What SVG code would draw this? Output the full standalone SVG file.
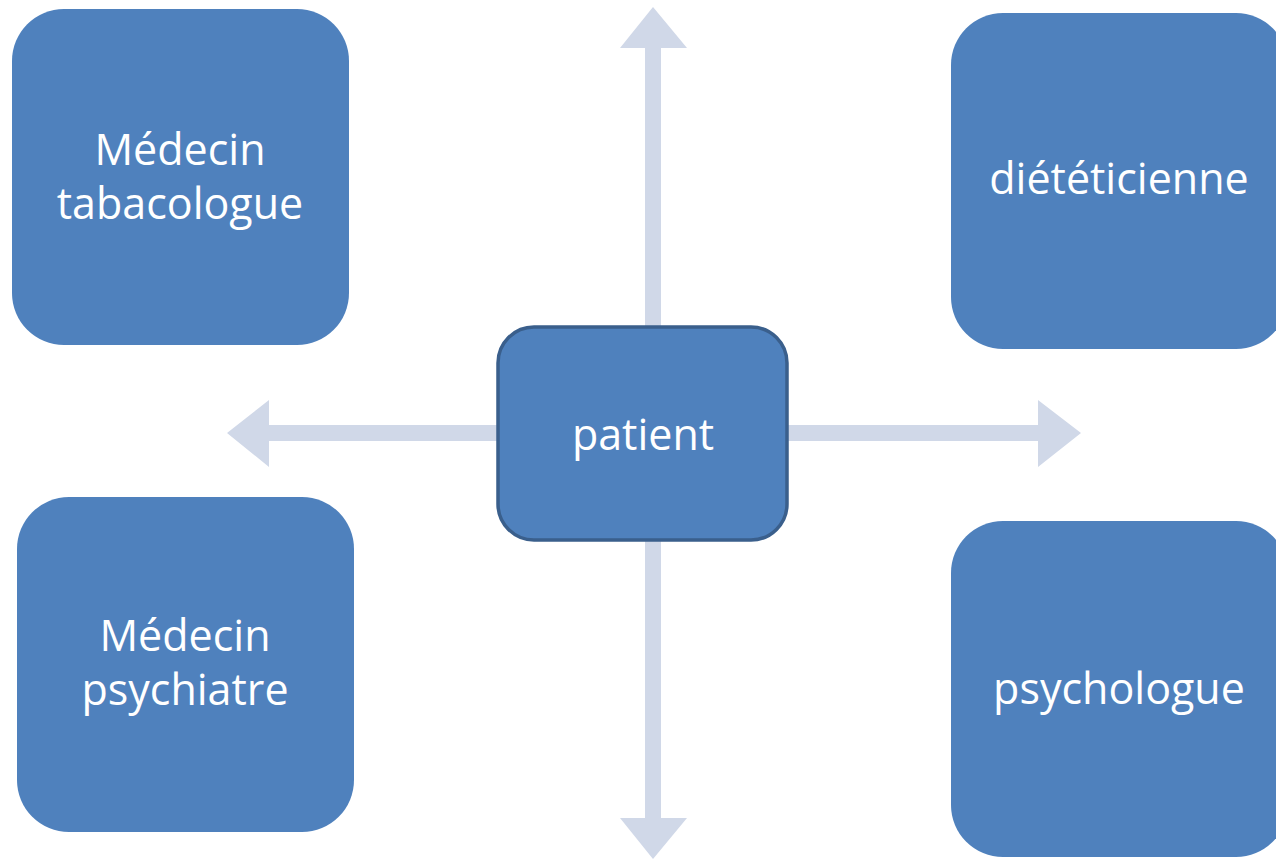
<svg xmlns="http://www.w3.org/2000/svg" width="1276" height="861" viewBox="0 0 1276 861">
<style>
.box{fill:#4F81BD}
.center{fill:#4F81BD;stroke:#3A5F8C;stroke-width:3.5}
.arrow{fill:#D0D8E8}
text{font-family:"Open Sans","Liberation Sans",sans-serif;font-size:43px;fill:#FFFFFF;text-anchor:middle}
</style>
<rect width="1276" height="861" fill="#FFFFFF"/>
<g id="connectors">
<polygon class="arrow" points="645,330 645,48 620,48 653,7 687,48 661,48 661,330"/>
<polygon class="arrow" points="645,540 645,818 620,818 653,859 687,818 661,818 661,540"/>
<polygon class="arrow" points="500,425 269,425 269,400 227,433 269,467 269,441 500,441"/>
<polygon class="arrow" points="785,425 1038,425 1038,400 1081,433 1038,467 1038,441 785,441"/>
</g>
<g id="node-tabacologue">
<rect class="box" x="12" y="9" width="337" height="336" rx="52"/>
<text x="180" y="165">Médecin</text>
<text x="180" y="219">tabacologue</text>
</g>
<g id="node-dieteticienne">
<rect class="box" x="951" y="13" width="337" height="336" rx="52"/>
<text x="1119" y="194">diététicienne</text>
</g>
<g id="node-psychiatre">
<rect class="box" x="17" y="497" width="337" height="335" rx="52"/>
<text x="185" y="651">Médecin</text>
<text x="185" y="705">psychiatre</text>
</g>
<g id="node-psychologue">
<rect class="box" x="951" y="521" width="337" height="336" rx="52"/>
<text x="1119" y="704">psychologue</text>
</g>
<g id="node-patient">
<rect class="center" x="498" y="327" width="289" height="213" rx="36"/>
<text x="643" y="450">patient</text>
</g>
</svg>
